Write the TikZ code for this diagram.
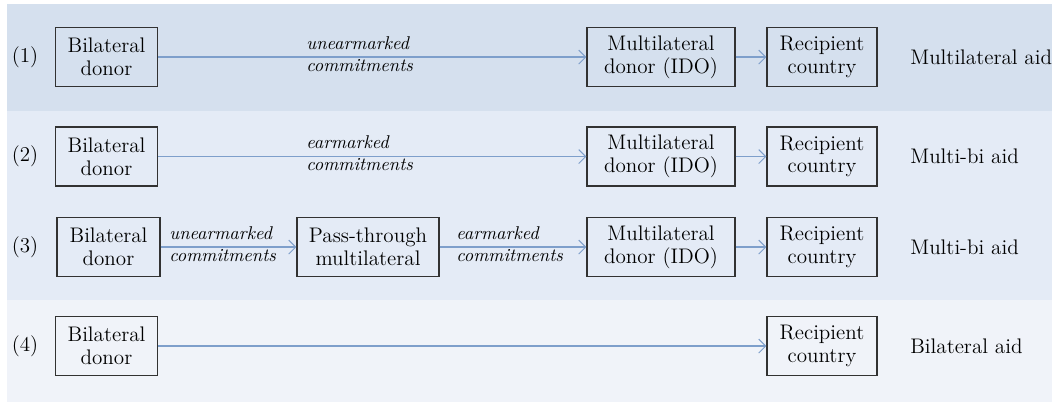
\documentclass[tikz,border=0pt]{standalone}
\definecolor{band_top}{RGB}{213, 224, 238}
\definecolor{band_mid}{RGB}{228, 235, 246}
\definecolor{band_low}{RGB}{240, 243, 249}
\definecolor{flow_blue}{RGB}{126, 159, 203}
\definecolor{box_edge}{RGB}{50, 50, 50}
\usepackage{tikz}
\usetikzlibrary{arrows.meta, positioning}

\begin{document}
\begin{tikzpicture}[x=0.02cm, y=-0.02cm,
        box/.style={draw=box_edge, line width=0.6pt, align=center, inner sep=1pt,
                    minimum height=1.18cm, font=\fontsize{12}{13}\selectfont},
        flow/.style={-{Straight Barb[length=1.4mm, width=2.8mm]}, flow_blue, line width=0.6pt},
        lbl/.style={font=\fontsize{10.5}{12.5}\selectfont\itshape, align=left,
                    anchor=west, inner sep=0pt},
        tag/.style={font=\fontsize{12}{13}\selectfont},
        kind/.style={font=\fontsize{12}{13}\selectfont, anchor=west, inner sep=0pt}]
        % Bands
        \useasboundingbox (0, 0) rectangle (1052, 403);
        \fill[white] (0, 0) rectangle (1052, 403);
        \fill[band_top] (7, 4) rectangle (1052, 111);
        \fill[band_mid] (7, 111) rectangle (1052, 300);
        \fill[band_low] (7, 300) rectangle (1052, 402);
        % Row (1)
        \node[tag] (n1) at (25, 57) {(1)};
        \node[box, minimum width=2.04cm] (bd1) at (106.5, 57) {Bilateral\\donor};
        \node[box, minimum width=2.96cm] (md1) at (661, 57) {Multilateral\\donor (IDO)};
        \node[box, minimum width=2.2cm] (rc1) at (822, 57) {Recipient\\country};
        \draw[flow] (bd1.east) -- (md1.west);
        \draw[flow] (md1.east) -- (rc1.west);
        \node[lbl] (c1) at (306, 54) {unearmarked\\commitments};
        \node[kind] (k1) at (910, 57) {Multilateral aid};
        % Row (2)
        \node[tag] (n2) at (25, 156.5) {(2)};
        \node[box, minimum width=2.04cm] (bd2) at (106.5, 156.5) {Bilateral\\donor};
        \node[box, minimum width=2.96cm] (md2) at (661, 156.5) {Multilateral\\donor (IDO)};
        \node[box, minimum width=2.2cm] (rc2) at (822, 156.5) {Recipient\\country};
        \draw[flow] (bd2.east) -- (md2.west);
        \draw[flow] (md2.east) -- (rc2.west);
        \node[lbl] (c2) at (306, 153.5) {earmarked\\commitments};
        \node[kind] (k2) at (910, 156.5) {Multi-bi aid};
        % Row (3)
        \node[tag] (n3) at (25, 247) {(3)};
        \node[box, minimum width=2.06cm] (bd3) at (108.5, 247) {Bilateral\\donor};
        \node[box, minimum width=2.84cm] (pt3) at (368, 247) {Pass-through\\multilateral};
        \node[box, minimum width=2.96cm] (md3) at (661, 247) {Multilateral\\donor (IDO)};
        \node[box, minimum width=2.2cm] (rc3) at (822, 247) {Recipient\\country};
        \draw[flow] (bd3.east) -- (pt3.west);
        \draw[flow] (pt3.east) -- (md3.west);
        \draw[flow] (md3.east) -- (rc3.west);
        \node[lbl] (c3a) at (169, 244) {unearmarked\\commitments};
        \node[lbl] (c3b) at (456, 244) {earmarked\\commitments};
        \node[kind] (k3) at (910, 247) {Multi-bi aid};
        % Row (4)
        \node[tag] (n4) at (25, 346) {(4)};
        \node[box, minimum width=2.04cm] (bd4) at (106.5, 346) {Bilateral\\donor};
        \node[box, minimum width=2.2cm] (rc4) at (822, 346) {Recipient\\country};
        \draw[flow] (bd4.east) -- (rc4.west);
        \node[kind] (k4) at (910, 346) {Bilateral aid};
      \end{tikzpicture}
\end{document}
